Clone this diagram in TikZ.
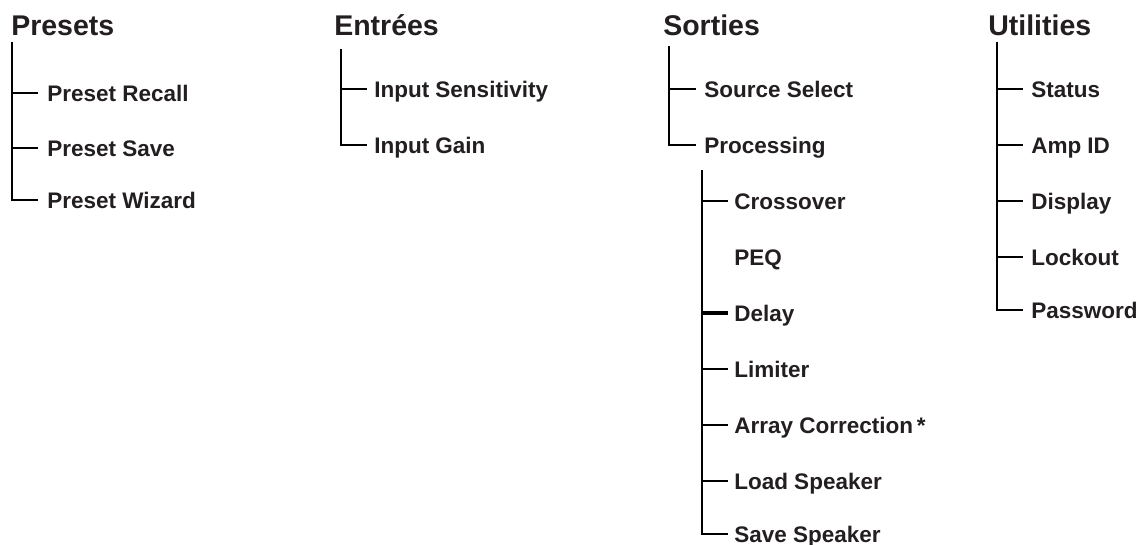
\documentclass[tikz,border=0pt]{standalone}
\usepackage{fontspec}
\setmainfont{Liberation Sans}
\usetikzlibrary{positioning}
\definecolor{inkgray}{HTML}{231F20}
\tikzset{
    every picture/.style={line width=2.5pt},
    heading/.style={anchor=base west, inner sep=0pt, font=\fontsize{28.5}{30}\selectfont\bfseries, text=inkgray},
    item/.style={anchor=west, inner sep=0pt, text height=16pt, text depth=0pt, font=\fontsize{22.5}{25}\selectfont\bfseries, text=inkgray},
    branch/.style={draw=black, line cap=butt},
}

\begin{document}
\begin{tikzpicture}[x=1pt, y=-1pt]
    \useasboundingbox (0,0) rectangle (1139,544);

    % --- Presets ---
    \node[heading] (presets) at (10,35) {Presets};
    \coordinate (presets-root) at (12,42);
    \node[item] (recall) at (46,93)  {Preset Recall};
    \node[item] (save)   at (46,148) {Preset Save};
    \node[item] (wizard) at (46,200) {Preset Wizard};
    \foreach \child in {recall, save, wizard} {
        \draw[branch] (presets-root) |- ([xshift=-8pt]\child.west);
    }

    % --- Entrées ---
    \node[heading] (entrees) at (333,35) {Entrées};
    \coordinate (entrees-root) at (341,49);
    \node[item] (sensitivity) at (373,89)  {Input Sensitivity};
    \node[item] (gain)        at (373,145) {Input Gain};
    \foreach \child in {sensitivity, gain} {
        \draw[branch] (entrees-root) |- ([xshift=-6pt]\child.west);
    }

    % --- Sorties ---
    \node[heading] (sorties) at (662,35) {Sorties};
    \coordinate (sorties-root) at (669,46);
    \node[item] (source)     at (703,89)  {Source Select};
    \node[item] (processing) at (703,145) {Processing};
    \foreach \child in {source, processing} {
        \draw[branch] (sorties-root) |- ([xshift=-7pt]\child.west);
    }

    % Processing: sous-menu
    \coordinate (proc-root) at (702,170);
    \node[item] (crossover) at (733,201) {Crossover};
    \node[item] (peq)       at (733,257) {PEQ};
    \node[item] (delay)     at (733,313) {Delay};
    \node[item] (limiter)   at (733,369) {Limiter};
    \node[item] (array)     at (733,425) {Array Correction\,*};
    \node[item] (load)      at (733,481) {Load Speaker};
    \node[item] (savespk)   at (733,534) {Save Speaker};
    \foreach \child in {crossover, limiter, array, load, savespk} {
        \draw[branch] (proc-root) |- ([xshift=-5pt]\child.west);
    }
    % PEQ sans branche, Delay plus épais
    \draw[branch, line width=3.3pt] (proc-root |- delay.west) -- ([xshift=-5pt]delay.west);

    % --- Utilities ---
    \node[heading] (utilities) at (987,35) {Utilities};
    \coordinate (util-root) at (997,42);
    \node[item] (status)   at (1030,89)  {Status};
    \node[item] (ampid)    at (1030,145) {Amp ID};
    \node[item] (display)  at (1030,201) {Display};
    \node[item] (lockout)  at (1030,257) {Lockout};
    \node[item] (password) at (1030,310) {Password};
    \foreach \child in {status, ampid, display, lockout, password} {
        \draw[branch] (util-root) |- ([xshift=-7pt]\child.west);
    }

\end{tikzpicture}
\end{document}
